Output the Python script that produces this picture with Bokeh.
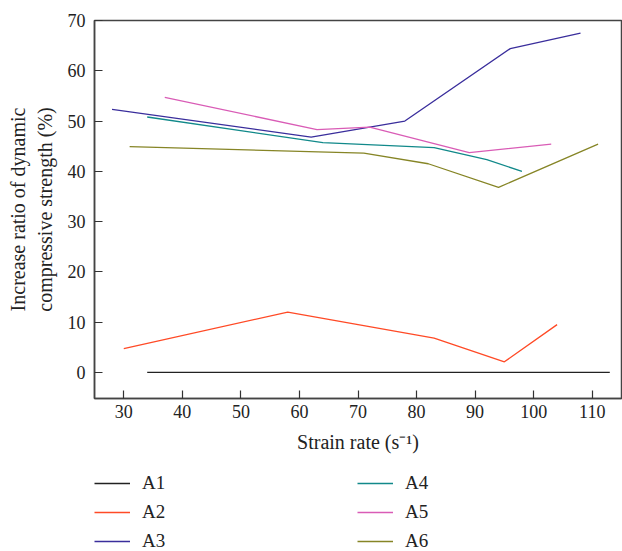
from bokeh.plotting import figure
from bokeh.models import Legend, LegendItem, Range1d, FixedTicker
from bokeh.layouts import column
from bokeh.embed import file_html
from bokeh.resources import INLINE

# Data
a1_x = [34, 113]
a1_y = [0, 0]
a2_x = [30, 58, 83, 95, 104]
a2_y = [4.7, 12.0, 6.8, 2.1, 9.5]
a3_x = [28, 62, 78, 96, 108]
a3_y = [52.3, 46.8, 50.0, 64.4, 67.5]
a4_x = [34, 64, 83, 92, 98]
a4_y = [50.8, 45.7, 44.7, 42.3, 40.0]
a5_x = [37, 63, 72, 89, 103]
a5_y = [54.7, 48.3, 48.8, 43.7, 45.4]
a6_x = [31, 71, 82, 94, 111]
a6_y = [44.9, 43.6, 41.5, 36.8, 45.4]

names = ["A1", "A2", "A3", "A4", "A5", "A6"]
colors = ["#222222", "#FF4A26", "#3A2E9C", "#11898A", "#D95CB6", "#868526"]
xs = [a1_x, a2_x, a3_x, a4_x, a5_x, a6_x]
ys = [a1_y, a2_y, a3_y, a4_y, a5_y, a6_y]

x_ticks = [30, 40, 50, 60, 70, 80, 90, 100, 110]
y_ticks = [0, 10, 20, 30, 40, 50, 60, 70]

FONT = "Liberation Serif"

p = figure(width=622, height=460, output_backend="svg", toolbar_location=None,
           x_range=Range1d(25, 115), y_range=Range1d(-5.2, 70),
           min_border_left=94, min_border_right=1, min_border_top=20,
           min_border_bottom=62)

renderers = []
for x, y, c in zip(xs, ys, colors):
    r = p.line(x, y, line_color=c, line_width=1.3)
    renderers.append(r)

p.xgrid.visible = False
p.ygrid.visible = False
p.outline_line_color = "#444444"
p.outline_line_width = 1.5

for ax in (p.xaxis[0], p.yaxis[0]):
    ax.major_tick_in = 8
    ax.major_tick_out = 0
    ax.minor_tick_in = 0
    ax.minor_tick_out = 0
    ax.axis_line_color = "#444444"
    ax.axis_line_width = 1.5
    ax.major_tick_line_color = "#333333"
    ax.major_tick_line_width = 1.2
    ax.major_label_text_font = FONT
    ax.major_label_text_font_size = "18px"
    ax.major_label_text_color = "#222222"
    ax.axis_label_text_font = FONT
    ax.axis_label_text_font_size = "20px"
    ax.axis_label_text_font_style = "normal"
    ax.axis_label_text_color = "#222222"

p.xaxis[0].ticker = FixedTicker(ticks=x_ticks)
p.yaxis[0].ticker = FixedTicker(ticks=y_ticks)
p.xaxis[0].axis_label = "Strain rate (s\u207b\u00b9)"
p.xaxis[0].major_label_standoff = 6
p.xaxis[0].axis_label_standoff = 10
p.yaxis[0].axis_label = "Increase ratio of dynamic\ncompressive strength (%)"
p.yaxis[0].major_label_standoff = 9
p.yaxis[0].axis_label_standoff = 9

# Legend panel below the chart (its line renderers sit outside its visible range)
lg = figure(width=622, height=91, output_backend="svg", toolbar_location=None,
            x_axis_location=None, y_axis_location=None,
            x_range=Range1d(0, 1), y_range=Range1d(0, 1),
            min_border=0, outline_line_color=None)
lg.xgrid.visible = False
lg.ygrid.visible = False
lg_renderers = [lg.line([5, 6], [5, 6], line_color=c, line_width=1.5) for c in colors]
items = [LegendItem(label=n, renderers=[r]) for n, r in zip(names, lg_renderers)]
legend = Legend(items=items, orientation="vertical", nrows=3,
                location=(0, -1), label_text_font=FONT,
                label_text_font_size="19px", label_text_color="#222222",
                glyph_width=36, glyph_height=20, label_height=20,
                label_width=208, label_standoff=12, spacing=7,
                padding=0, margin=0, border_line_color=None,
                background_fill_alpha=0)
lg.add_layout(legend, "center")

open("out.html", "w").write(file_html(column(p, lg, spacing=0), INLINE))
